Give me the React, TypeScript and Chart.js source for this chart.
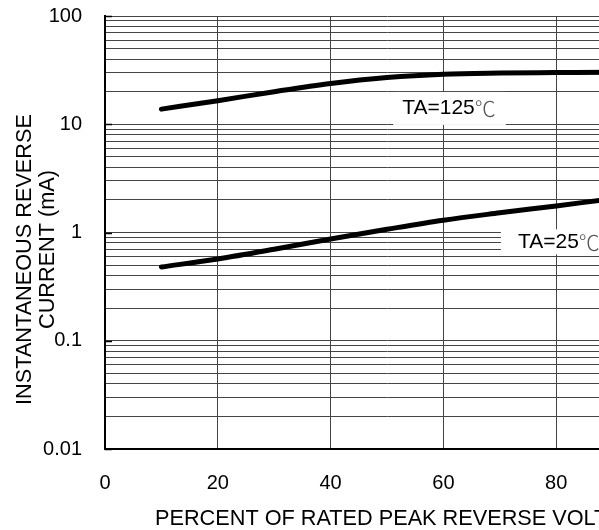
import React, { useEffect, useRef } from 'react';
import { Chart, registerables } from 'chart.js';

Chart.register(...registerables);

// ---- data ----
const percentVoltage = [10, 20, 30, 40, 50, 60, 70, 80, 90, 100];
const current125C = [13.8, 16.5, 20.0, 23.8, 27.0, 29.0, 29.7, 30.0, 30.3, 30.5];
const current25C = [0.48, 0.57, 0.70, 0.87, 1.07, 1.30, 1.52, 1.76, 2.05, 2.35];
const xTickValues = [0, 20, 40, 60, 80, 100];
const yDecades = [0.01, 0.1, 1, 10, 100];
const yTickLabels = ['0.01', '0.1', '1', '10', '100'];
const seriesNames = ['TA=125', 'TA=25'];
const xTitle = 'PERCENT OF RATED PEAK REVERSE VOLTAGE (%)';
const yTitleLines = ['INSTANTANEOUS REVERSE', 'CURRENT (mA)'];

const FONT = '"Liberation Sans", Arial, sans-serif';

const annotationPlugin = {
  id: 'annotations',
  afterDraw(chart: any) {
    const { ctx, chartArea, scales } = chart;
    const xs = scales.x;
    const ys = scales.y;
    ctx.save();
    // decade tick marks inside plot
    ctx.strokeStyle = '#000';
    ctx.lineWidth = 1.5;
    yDecades.forEach((d) => {
      const py = Math.round(ys.getPixelForValue(d)) + 0.5;
      ctx.beginPath();
      ctx.moveTo(chartArea.left, py);
      ctx.lineTo(chartArea.left + 7, py);
      ctx.stroke();
    });

    // series labels with white boxes
    const labels = [
      { name: seriesNames[0], x: 51.1, y: 14.0, padL: 9, padR: 10, h: 33 },
      { name: seriesNames[1], x: 70.2, y: 0.82, padL: 17, padR: 10, h: 25 },
    ];
    labels.forEach((l) => {
      const px = xs.getPixelForValue(l.x);
      const py = ys.getPixelForValue(l.y);
      ctx.font = `21px ${FONT}`;
      const w1 = ctx.measureText(l.name).width;
      ctx.font = `300 21px "Noto Sans CJK SC", sans-serif`;
      const w2 = ctx.measureText('℃').width;
      const boxW = l.padL + w1 + w2 + l.padR;
      ctx.fillStyle = '#fff';
      ctx.fillRect(px, py - l.h / 2, boxW, l.h);
      ctx.textBaseline = 'middle';
      ctx.textAlign = 'left';
      ctx.fillStyle = '#000';
      ctx.font = `21px ${FONT}`;
      ctx.fillText(l.name, px + l.padL, py);
      ctx.fillStyle = '#555';
      ctx.font = `300 21px "Noto Sans CJK SC", sans-serif`;
      ctx.fillText('℃', px + l.padL + w1, py);
    });

    // axis titles
    ctx.fillStyle = '#000';
    ctx.font = `21.7px ${FONT}`;
    ctx.textAlign = 'left';
    ctx.textBaseline = 'middle';
    ctx.fillText(xTitle, chartArea.left + 50, chartArea.bottom + 70);

    const midY = (chartArea.top + chartArea.bottom) / 2;
    ctx.textAlign = 'center';
    const lineX = [25, 48];
    const lineOff = [27, 17];
    yTitleLines.forEach((t, i) => {
      ctx.save();
      ctx.translate(lineX[i], midY + lineOff[i]);
      ctx.rotate(-Math.PI / 2);
      ctx.fillText(t, 0, 0);
      ctx.restore();
    });
    ctx.restore();
  },
};

export default function App() {
  const ref = useRef<HTMLCanvasElement | null>(null);

  useEffect(() => {
    if (!ref.current) return;
    const chart = new Chart(ref.current, {
      type: 'line',
      data: {
        datasets: [
          {
            label: seriesNames[0],
            data: percentVoltage.map((x, i) => ({ x, y: current125C[i] })),
            borderColor: '#000',
            borderWidth: 5,
            pointRadius: 0,
            cubicInterpolationMode: 'monotone',
            borderCapStyle: 'round',
            fill: false,
          },
          {
            label: seriesNames[1],
            data: percentVoltage.map((x, i) => ({ x, y: current25C[i] })),
            borderColor: '#000',
            borderWidth: 5,
            pointRadius: 0,
            cubicInterpolationMode: 'monotone',
            borderCapStyle: 'round',
            fill: false,
          },
        ],
      },
      options: {
        animation: false,
        responsive: false,
        devicePixelRatio: 1,
        layout: { padding: { top: 16, right: 51, left: 0, bottom: 0 } },
        plugins: { legend: { display: false }, tooltip: { enabled: false } },
        scales: {
          x: {
            type: 'linear',
            min: 0,
            max: 100,
            afterBuildTicks: (scale: any) => {
              scale.ticks = xTickValues.map((v) => ({ value: v }));
            },
            afterFit: (scale: any) => {
              scale.height = 81;
              scale.paddingLeft = 0;
              scale.paddingRight = 0;
            },
            ticks: {
              autoSkip: false,
              maxRotation: 0,
              padding: 22,
              color: '#000',
              font: { family: FONT, size: 20 },
            },
            grid: { color: '#444', lineWidth: 1, drawTicks: false },
            border: { color: '#000', width: 2 },
          },
          y: {
            type: 'logarithmic',
            min: 0.01,
            max: 100,
            afterBuildTicks: (scale: any) => {
              const t: any[] = [];
              yDecades.forEach((d, i) => {
                if (i === yDecades.length - 1) {
                  t.push({ value: d, major: true });
                  return;
                }
                for (let m = 1; m <= 9; m++) t.push({ value: d * m, major: m === 1 });
              });
              scale.ticks = t;
            },
            afterFit: (scale: any) => {
              scale.width = 105;
              scale.paddingTop = 0;
              scale.paddingBottom = 0;
            },
            ticks: {
              autoSkip: false,
              padding: 23,
              color: '#000',
              font: { family: FONT, size: 20 },
              callback: (value: any) => {
                const idx = yDecades.findIndex((d) => Math.abs(d - value) / d < 1e-6);
                return idx >= 0 ? yTickLabels[idx] : '';
              },
            },
            grid: { color: '#444', lineWidth: 1, drawTicks: false },
            border: { color: '#000', width: 2 },
          },
        },
      } as any,
      plugins: [annotationPlugin],
    });
    return () => chart.destroy();
  }, []);

  return (
    <div
      style={{
        position: 'fixed',
        left: 0,
        top: 0,
        width: 599,
        height: 530,
        overflow: 'hidden',
        background: '#fff',
      }}
    >
      <canvas ref={ref} width={720} height={530} style={{ width: 720, height: 530, display: 'block' }} />
    </div>
  );
}
